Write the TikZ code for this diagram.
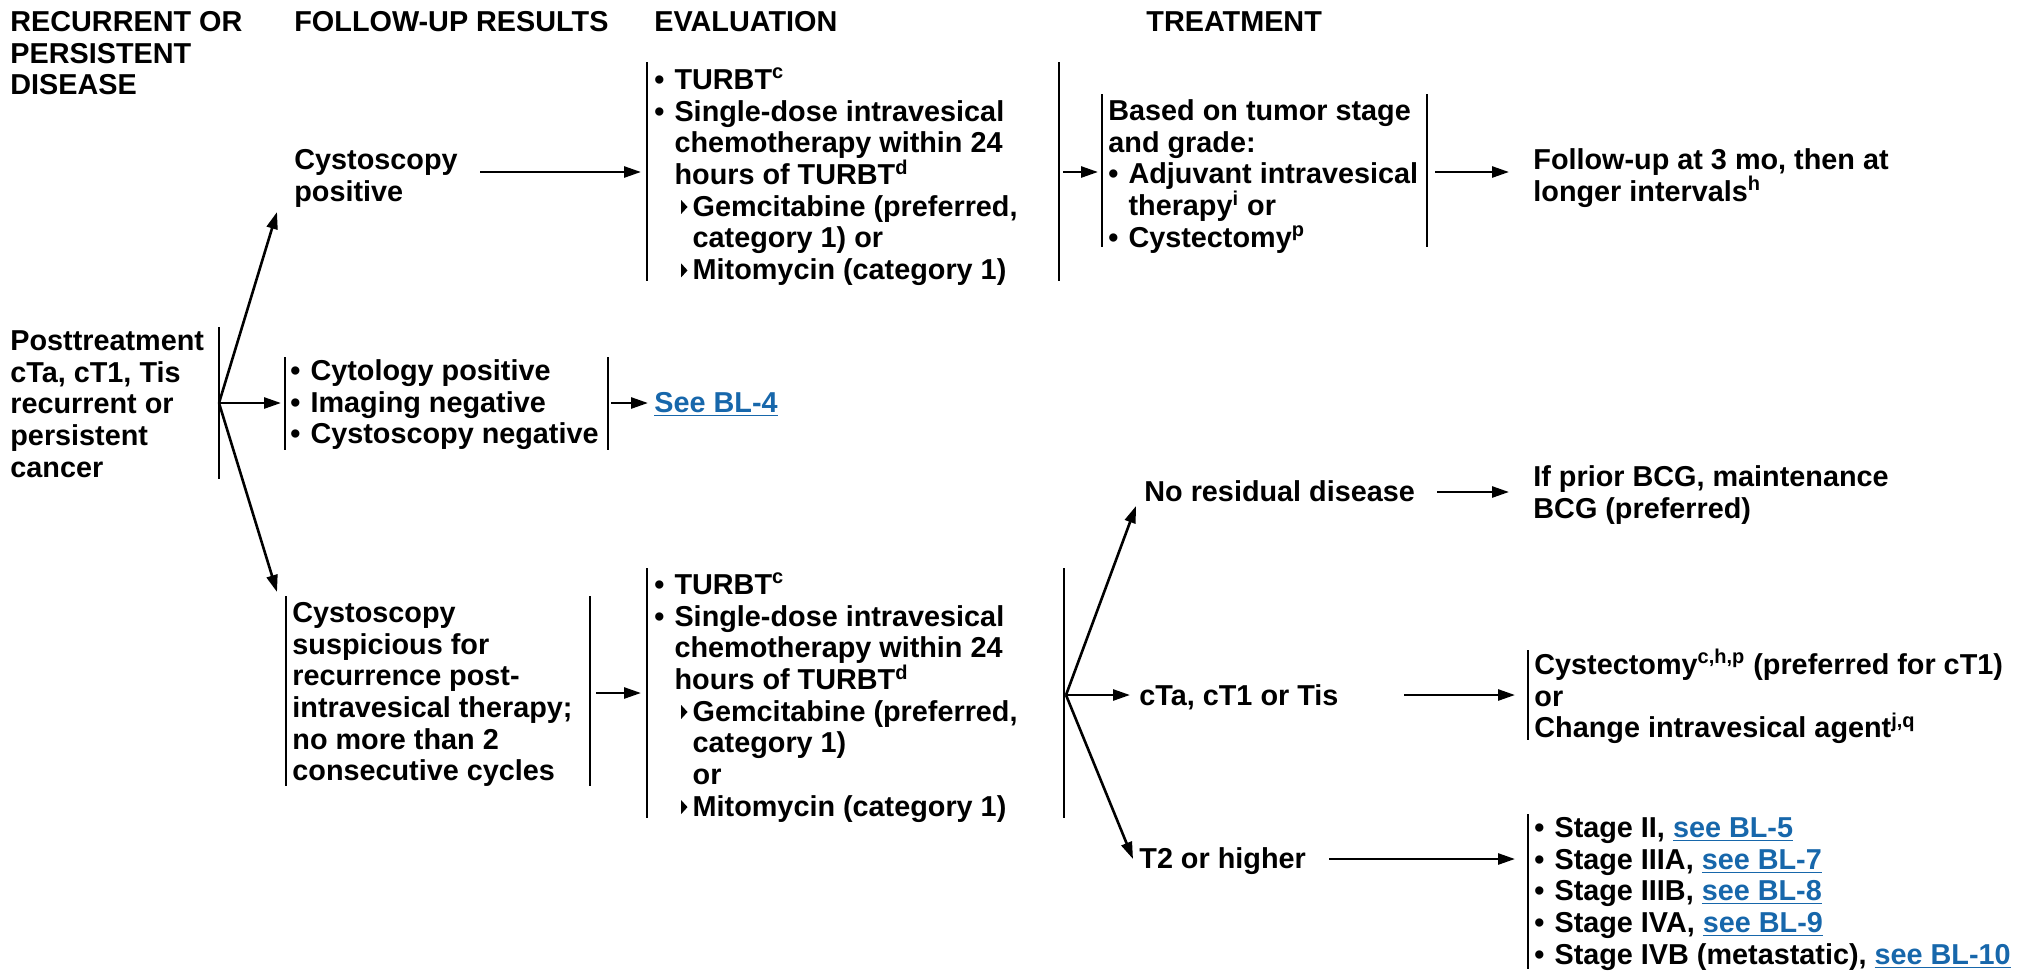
\documentclass[tikz,border=0pt]{standalone}
\usepackage{fontspec}
\setmainfont{Liberation Sans}
\usetikzlibrary{arrows.meta}
\definecolor{linkblue}{HTML}{1767AB}
\newcommand{\bul}{\makebox[0.7em][l]{\textbullet}}
\newcommand{\hang}{\hspace*{0.7em}}
\newcommand{\tri}{\makebox[0.4em][l]{\tikz[baseline=0pt]\fill (0,0.08em) -- (0,0.56em) -- (0.22em,0.32em) -- cycle;}}
\newcommand{\subin}{\hspace*{0.93em}}
\newcommand{\subhang}{\hspace*{1.33em}}
\newcommand{\lk}[1]{\textcolor{linkblue}{\underline{#1}}}
\newcommand{\fl}{\rule{0pt}{14pt}}
\tikzset{
  txt/.style={anchor=north west, inner sep=0pt, align=left,
    font=\bfseries\fontsize{14.4}{15.85}\selectfont},
  brk/.style={line width=1pt},
  arr/.style={line width=1.3pt, -{Triangle[length=8.5pt,width=5.5pt]}},
}
\begin{document}
\begin{tikzpicture}[x=0.5pt,y=-0.5pt]
\useasboundingbox (0,0) rectangle (2020,970);
% headers
\node[txt] (h1) at (10,3) {\fl RECURRENT OR\\PERSISTENT\\DISEASE};
\node[txt] (h2) at (294,3) {\fl FOLLOW-UP RESULTS};
\node[txt] (h3) at (654,3) {\fl EVALUATION};
\node[txt] (h4) at (1146,3) {\fl TREATMENT};
% root
\node[txt] (root) at (10,322) {\fl Posttreatment\\cTa, cT1, Tis\\recurrent or\\persistent\\cancer};
\draw[brk] (219,327) -- (219,479);
\coordinate (f1) at (219,403);
% follow-up results
\node[txt] (cp) at (294,141) {\fl Cystoscopy\\positive};
\node[txt] (mid) at (290,352) {\fl\bul Cytology positive\\\bul Imaging negative\\\bul Cystoscopy negative};
\draw[brk] (285,357) -- (285,450);
\draw[brk] (608,357) -- (608,450);
\node[txt] (sus) at (292,594) {\fl Cystoscopy\\suspicious for\\recurrence post-\\intravesical therapy;\\no more than 2\\consecutive cycles};
\draw[brk] (286,596) -- (286,786);
\draw[brk] (590,596) -- (590,786);
\coordinate (cpT) at (277,212);
\coordinate (midT) at (281,403);
\coordinate (susT) at (277,592);
\draw[arr] (f1) -- (cpT);
\draw[arr] (f1) -- (midT);
\draw[arr] (f1) -- (susT);
% evaluation top
\node[txt] (ev1) at (654,61) {\fl\bul TURBT\textsuperscript{c}\\
\bul Single-dose intravesical\\
\hang chemotherapy within 24\\
\hang hours of TURBT\textsuperscript{d}\\
\subin\tri Gemcitabine (preferred,\\
\subhang category 1) or\\
\subin\tri Mitomycin (category 1)};
\draw[brk] (647,62) -- (647,281);
\draw[brk] (1059,62) -- (1059,281);
\coordinate (cpR) at (480,172);
\coordinate (ev1L) at (641,172);
\draw[arr] (cpR) -- (ev1L);
% see BL-4
\node[txt] (bl4) at (654,384) {\fl\lk{See BL-4}};
\coordinate (midR) at (611,403);
\coordinate (bl4L) at (648,403);
\draw[arr] (midR) -- (bl4L);
% treatment top
\node[txt] (bt) at (1108,92) {\fl Based on tumor stage\\and grade:\\\bul Adjuvant intravesical\\\hang therapy\textsuperscript{i} or\\\bul Cystectomy\textsuperscript{p}};
\draw[brk] (1102,94) -- (1102,247);
\draw[brk] (1427,94) -- (1427,247);
\coordinate (ev1R) at (1063,172);
\coordinate (btL) at (1098,172);
\draw[arr] (ev1R) -- (btL);
\node[txt] (fu) at (1533,141) {\fl Follow-up at 3 mo, then at\\longer intervals\textsuperscript{h}};
\coordinate (btR) at (1435,172);
\coordinate (fuL) at (1509,172);
\draw[arr] (btR) -- (fuL);
% evaluation bottom
\node[txt] (ev2) at (654,566) {\fl\bul TURBT\textsuperscript{c}\\
\bul Single-dose intravesical\\
\hang chemotherapy within 24\\
\hang hours of TURBT\textsuperscript{d}\\
\subin\tri Gemcitabine (preferred,\\
\subhang category 1)\\
\subhang or\\
\subin\tri Mitomycin (category 1)};
\draw[brk] (647,568) -- (647,818);
\draw[brk] (1064,568) -- (1064,818);
\coordinate (susR) at (596,693);
\coordinate (ev2L) at (641,693);
\draw[arr] (susR) -- (ev2L);
% second fan
\coordinate (f2) at (1066,695);
\node[txt] (nr) at (1144,473) {\fl No residual disease};
\node[txt] (cta) at (1139,677) {\fl cTa, cT1 or Tis};
\node[txt] (t2) at (1139,840) {\fl T2 or higher};
\coordinate (nrT) at (1136,506);
\coordinate (ctaT) at (1130,695);
\coordinate (t2T) at (1133,859);
\draw[arr] (f2) -- (nrT);
\draw[arr] (f2) -- (ctaT);
\draw[arr] (f2) -- (t2T);
% outcomes
\node[txt] (bcg) at (1533,458) {\fl If prior BCG, maintenance\\BCG (preferred)};
\coordinate (nrR) at (1437,492);
\coordinate (bcgL) at (1509,492);
\draw[arr] (nrR) -- (bcgL);
\node[txt] (cys) at (1534,646) {\fl Cystectomy\textsuperscript{c,h,p} (preferred for cT1)\\or\\Change intravesical agent\textsuperscript{j,q}};
\draw[brk] (1528,650) -- (1528,740);
\coordinate (ctaR) at (1404,695);
\coordinate (cysL) at (1515,695);
\draw[arr] (ctaR) -- (cysL);
\node[txt] (stg) at (1534,809) {\fl\bul Stage II, \lk{see BL-5}\\
\bul Stage IIIA, \lk{see BL-7}\\
\bul Stage IIIB, \lk{see BL-8}\\
\bul Stage IVA, \lk{see BL-9}\\
\bul Stage IVB (metastatic), \lk{see BL-10}};
\draw[brk] (1528,814) -- (1528,969);
\coordinate (t2R) at (1329,859);
\coordinate (stgL) at (1515,859);
\draw[arr] (t2R) -- (stgL);
\end{tikzpicture}
\end{document}
